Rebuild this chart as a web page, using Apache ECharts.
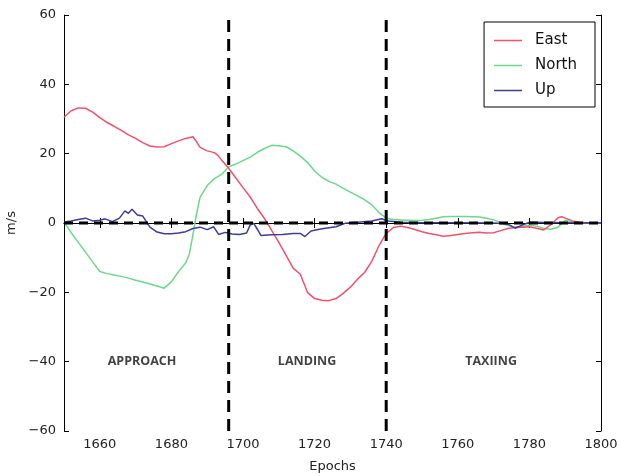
<!DOCTYPE html>
<html>
<head>
<meta charset="utf-8">
<script src="https://cdn.jsdelivr.net/npm/echarts@6.0.0/dist/echarts.min.js"></script>
<style>html,body{margin:0;padding:0;background:#fff;}#c{width:621px;height:476px;}</style>
</head>
<body>
<div id="c"></div>
<script>
// ---- Data ----
const eastEpochs = [1650,1652,1654,1656,1658,1660,1662,1664,1666,1668,1670,1672,1674,1676,1678,1680,1682,1684,1686,1687,1688,1690,1692,1693,1694,1696,1698,1700,1702,1704,1706,1708,1710,1712,1714,1716,1718,1720,1722,1724,1726,1728,1730,1732,1734,1736,1738,1740,1742,1744,1746,1748,1750,1752,1754,1756,1758,1760,1762,1764,1766,1768,1770,1772,1774,1776,1778,1780,1782,1784,1786,1788,1789,1790,1792,1794,1796,1800];
const eastValues = [30.5,32.4,33.2,33.1,32.0,30.4,29.0,27.9,26.7,25.4,24.4,23.2,22.2,21.9,22.0,22.9,23.7,24.4,24.9,23.5,21.8,20.8,20.3,19.5,18.2,15.8,13.0,10.2,7.5,4.2,1.3,-2.1,-5.6,-9.3,-13.0,-14.8,-20.0,-21.8,-22.3,-22.4,-21.8,-20.3,-18.5,-16.2,-14.2,-11.0,-6.5,-3.0,-1.3,-0.9,-1.3,-1.9,-2.5,-3.0,-3.4,-3.8,-3.6,-3.3,-3.0,-2.8,-2.7,-2.9,-2.8,-2.2,-1.6,-1.3,-1.2,-1.1,-1.5,-2.0,-0.5,1.5,1.8,1.4,0.6,0.2,0.1,0.0];

const northEpochs = [1650,1651,1652,1654,1656,1658,1660,1662,1664,1666,1668,1670,1672,1674,1676,1678,1680,1682,1684,1685,1686,1687,1688,1690,1692,1694,1696,1698,1700,1702,1704,1706,1708,1710,1712,1714,1716,1718,1720,1722,1724,1726,1728,1730,1732,1734,1736,1738,1740,1742,1744,1746,1748,1750,1752,1754,1756,1758,1760,1762,1764,1766,1768,1770,1772,1774,1776,1778,1780,1782,1784,1786,1788,1790,1792,1794,1800];
const northValues = [0.2,-1.2,-2.8,-5.6,-8.4,-11.2,-14.0,-14.6,-15.0,-15.4,-15.9,-16.5,-17.0,-17.6,-18.2,-18.8,-17.0,-14.0,-11.5,-9.0,-3.5,2.5,7.4,10.8,12.8,14.0,16.2,17.0,18.0,19.0,20.4,21.5,22.4,22.3,22.0,20.8,19.3,17.5,15.0,13.2,12.0,11.2,10.0,8.9,7.8,6.7,5.2,3.0,1.4,1.0,0.9,0.8,0.7,0.8,1.0,1.4,1.8,1.9,1.9,1.9,1.8,1.7,1.4,0.9,0.1,-0.7,-1.2,-1.0,-0.6,-0.9,-1.6,-1.8,-1.2,0.8,0.3,0.0,0.0];

const upEpochs = [1650,1652,1654,1656,1658,1660,1661.5,1663.5,1665.5,1667,1668,1669,1670.5,1672,1674,1676,1678,1680,1682,1684,1686,1688,1690,1691.8,1693.2,1695,1697,1699,1701,1702,1703,1704,1705,1708,1711,1714,1716,1717.3,1719,1721,1723,1726,1728.5,1732,1736,1738.7,1740.6,1744,1750,1760,1770,1774,1776,1778,1780,1790,1800];
const upValues = [0.3,0.6,1.0,1.4,0.6,0.8,1.2,0.4,1.4,3.5,2.8,4.0,2.3,2.0,-1.2,-2.6,-3.1,-3.1,-2.9,-2.5,-1.6,-1.2,-1.9,-1.1,-3.3,-2.7,-3.2,-3.3,-2.9,-0.6,-0.1,-1.8,-3.6,-3.4,-3.3,-3.0,-3.0,-3.9,-2.3,-1.9,-1.5,-1.1,-0.1,0.2,0.6,1.2,0.6,0.2,0.1,0.1,0.0,-0.3,-1.5,-0.6,0.2,0.1,0.0];

const phaseBoundaries = [1696, 1740];
const phaseNames = ['APPROACH', 'LANDING', 'TAXIING'];
const phaseLabelX = [1671.8, 1717.9, 1769.3];
const phaseLabelY = [-40, -40, -40];

const xTicks = [1660,1680,1700,1720,1740,1760,1780,1800];
const xRange = [1650, 1800];
const yRange = [-60, 60];

// ---- Build ----
const zip = (xs, ys) => xs.map((x, i) => [x, ys[i]]);
const FONT = 'DejaVu Sans';
const chart = echarts.init(document.getElementById('c'), null, {renderer: 'canvas'});

const axisLineStyle = {show: true, lineStyle: {color: '#000', width: 1}};
const tickStyle = {show: true, inside: true, length: 5, lineStyle: {color: '#000', width: 1}};

const series = [
  {name: 'East', type: 'line', data: zip(eastEpochs, eastValues), showSymbol: false, symbol: 'none',
   lineStyle: {color: '#f5506b', width: 1.5}, itemStyle: {color: '#f5506b'}, z: 3},
  {name: 'North', type: 'line', data: zip(northEpochs, northValues), showSymbol: false, symbol: 'none',
   lineStyle: {color: '#6cd88b', width: 1.5}, itemStyle: {color: '#6cd88b'}, z: 2},
  {name: 'Up', type: 'line', data: zip(upEpochs, upValues), showSymbol: false, symbol: 'none',
   lineStyle: {color: '#3c3c99', width: 1.5}, itemStyle: {color: '#3c3c99'}, z: 4},
  {type: 'line', data: [[xRange[0], 0], [xRange[1], 0]], showSymbol: false, symbol: 'none', silent: true,
   lineStyle: {color: '#000', width: 3, type: [9, 6]}, z: 5}
];
phaseBoundaries.forEach(b => {
  series.push({type: 'line', data: [[b, yRange[0]], [b, yRange[1]]], showSymbol: false, symbol: 'none', silent: true,
    lineStyle: {color: '#000', width: 3, type: [12, 7]}, z: 5});
});
series.push({type: 'scatter', symbolSize: 0, silent: true, z: 6,
  data: phaseNames.map((n, i) => ({name: n, value: [phaseLabelX[i], phaseLabelY[i]]})),
  label: {show: true, position: 'inside', formatter: p => p.name, fontFamily: 'Open Sans', fontWeight: 'bold',
    fontSize: 12.5, color: '#111'}
});

chart.setOption({
  animation: false,
  backgroundColor: '#fff',
  grid: {left: 64, right: 20, top: 15, bottom: 45, containLabel: false, outerBoundsMode: 'none'},
  legend: {
    data: ['East', 'North', 'Up'], orient: 'vertical', right: 26, top: 22,
    icon: 'rect', itemWidth: 28, itemHeight: 1.5,
    backgroundColor: '#fff', borderColor: '#000', borderWidth: 1, borderRadius: 0,
    padding: [11, 18, 9, 10], itemGap: 10,
    textStyle: {fontFamily: FONT, fontSize: 15, color: '#111', padding: [0, 0, 0, 8]}
  },
  xAxis: [
    {type: 'value', min: xRange[0], max: xRange[1], position: 'bottom',
     name: 'Epochs', nameLocation: 'middle', nameGap: 29,
     nameTextStyle: {fontFamily: FONT, fontSize: 13, color: '#222'},
     axisLine: axisLineStyle, splitLine: {show: false},
     axisTick: Object.assign({customValues: xTicks}, tickStyle),
     axisLabel: {customValues: xTicks, fontFamily: FONT, fontSize: 13, color: '#222', margin: 7,
       formatter: v => String(v)}},
    {type: 'value', min: xRange[0], max: xRange[1], position: 'top',
     axisLine: axisLineStyle, splitLine: {show: false},
     axisTick: Object.assign({customValues: xTicks}, tickStyle),
     axisLabel: {show: false}}
  ],
  yAxis: [
    {type: 'value', min: yRange[0], max: yRange[1], interval: 20, position: 'left',
     name: 'm/s', nameLocation: 'middle', nameGap: 33,
     nameTextStyle: {fontFamily: FONT, fontSize: 13, color: '#222'},
     axisLine: axisLineStyle, splitLine: {show: false}, axisTick: tickStyle,
     axisLabel: {fontFamily: FONT, fontSize: 13, color: '#222', margin: 8,
       formatter: v => (v < 0 ? '\u2212' + Math.abs(v) : String(v))}},
    {type: 'value', min: yRange[0], max: yRange[1], interval: 20, position: 'right',
     axisLine: axisLineStyle, splitLine: {show: false}, axisTick: tickStyle, axisLabel: {show: false}}
  ],
  series: series
});
</script>
</body>
</html>
